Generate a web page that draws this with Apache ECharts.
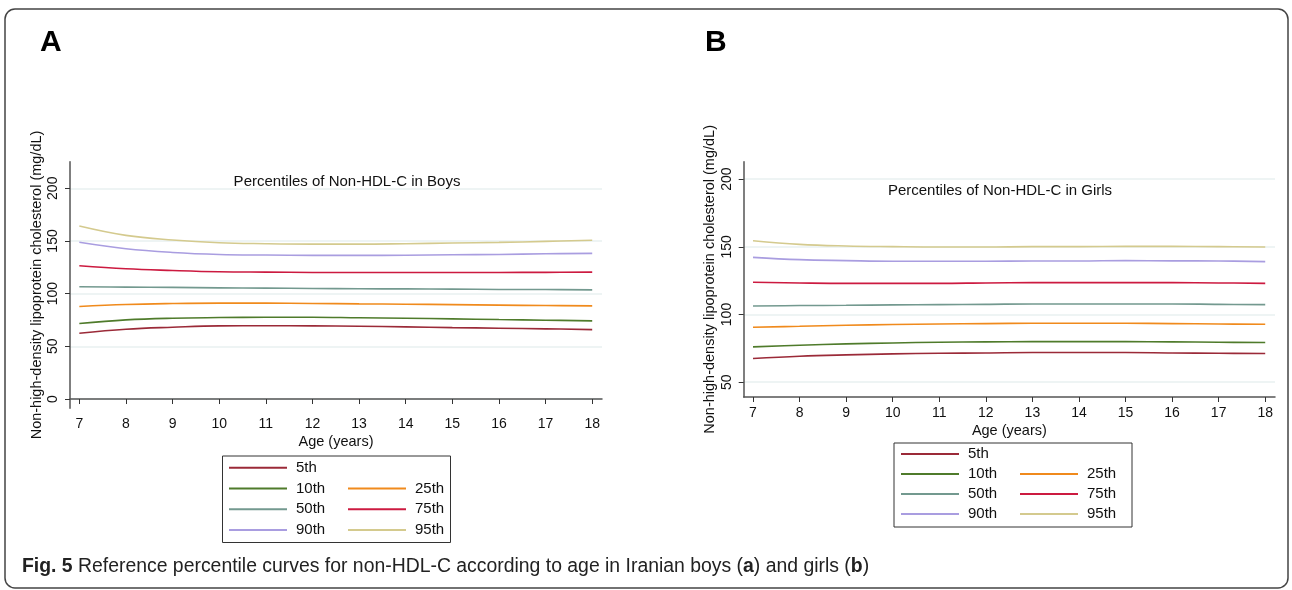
<!DOCTYPE html>
<html>
<head>
<meta charset="utf-8">
<script src="https://cdn.jsdelivr.net/npm/echarts@6/dist/echarts.min.js"></script>
<style>
  html, body { margin: 0; padding: 0; background: #fff; }
  #main { width: 1292px; height: 590px; }
</style>
</head>
<body>
<div id="main"></div>
<script>
// ages on the x axis
var ages = [7, 8, 9, 10, 11, 12, 13, 14, 15, 16, 17, 18];
var percentiles = ['5th', '10th', '25th', '50th', '75th', '90th', '95th'];
var boyTicks = [0, 50, 100, 150, 200];
var girlTicks = [50, 100, 150, 200];

// A - boys
var boys5 = [62.4, 66.2, 68.1, 69.4, 69.5, 69.4, 69.1, 68.5, 67.8, 67.2, 66.6, 65.9];
var boys10 = [71.6, 75.1, 76.7, 77.3, 77.6, 77.6, 77.1, 76.7, 76.1, 75.4, 74.8, 74.2];
var boys25 = [87.8, 89.7, 90.6, 91.0, 91.0, 90.7, 90.3, 90.0, 89.6, 89.1, 88.7, 88.4];
var boys50 = [106.5, 106.2, 105.9, 105.5, 105.2, 104.9, 104.6, 104.5, 104.3, 104.0, 103.9, 103.6];
var boys75 = [126.5, 123.6, 122.0, 120.8, 120.4, 120.1, 120.0, 120.0, 120.0, 120.1, 120.2, 120.4];
var boys90 = [148.7, 142.6, 139.1, 137.2, 136.6, 136.3, 136.3, 136.5, 136.9, 137.2, 137.8, 138.2];
var boys95 = [164.2, 155.3, 150.9, 148.3, 147.4, 147.0, 147.0, 147.4, 148.0, 148.6, 149.6, 150.6];

// B - girls
var girls5 = [67.5, 69.2, 70.2, 70.9, 71.4, 71.6, 71.9, 71.9, 71.9, 71.6, 71.4, 71.2];
var girls10 = [76.1, 77.3, 78.3, 79.0, 79.5, 79.8, 80.0, 80.0, 80.0, 79.8, 79.5, 79.3];
var girls25 = [90.6, 91.3, 92.1, 92.6, 93.0, 93.3, 93.5, 93.5, 93.5, 93.3, 93.0, 92.8];
var girls50 = [106.3, 106.6, 106.8, 107.1, 107.3, 107.5, 107.8, 107.8, 107.8, 107.8, 107.5, 107.3];
var girls75 = [123.8, 123.3, 123.0, 123.0, 123.0, 123.3, 123.5, 123.5, 123.5, 123.5, 123.3, 123.0];
var girls90 = [142.2, 140.5, 139.8, 139.3, 139.3, 139.3, 139.5, 139.5, 139.8, 139.6, 139.5, 139.0];
var girls95 = [154.5, 151.8, 150.6, 150.1, 149.8, 149.8, 150.1, 150.1, 150.3, 150.3, 150.1, 149.8];

var colors = ['#9b2a38', '#4f7b2b', '#f08a1c', '#73998f', '#cc1a40', '#a99de0', '#d4ca8e'];
var boys = [boys5, boys10, boys25, boys50, boys75, boys90, boys95];
var girls = [girls5, girls10, girls25, girls50, girls75, girls90, girls95];

var font = 'Liberation Sans, Arial, sans-serif';

function pairs(vals) {
  return ages.map(function (a, i) { return [a, vals[i]]; });
}

var series = [];
percentiles.forEach(function (p, i) {
  series.push({
    name: p, type: 'line', xAxisIndex: 0, yAxisIndex: 0,
    data: pairs(boys[i]), smooth: 0.4, symbol: 'none',
    color: colors[i], lineStyle: { width: 1.6, color: colors[i] }
  });
});
percentiles.forEach(function (p, i) {
  series.push({
    name: p, type: 'line', xAxisIndex: 1, yAxisIndex: 1,
    data: pairs(girls[i]), smooth: 0.4, symbol: 'none',
    color: colors[i], lineStyle: { width: 1.6, color: colors[i] }
  });
});

function xAx(grid) {
  return {
    gridIndex: grid, type: 'value', min: 6.8, max: 18.21,
    name: 'Age (years)', nameLocation: 'middle', nameGap: 26,
    nameTextStyle: { fontFamily: font, fontSize: 14.5, color: '#111' },
    axisLine: { lineStyle: { color: '#555', width: 1.5 } },
    axisTick: { customValues: ages, length: 5, lineStyle: { color: '#333' } },
    axisLabel: { customValues: ages, margin: 9, fontFamily: font, fontSize: 14, color: '#111' },
    splitLine: { show: false }
  };
}
function yAx(grid, min, max, ticks) {
  return {
    gridIndex: grid, type: 'value', min: min, max: max,
    name: 'Non-high-density lipoprotein cholesterol (mg/dL)',
    nameLocation: 'middle', nameGap: 26, nameRotate: 90,
    nameTextStyle: { fontFamily: font, fontSize: 14.5, color: '#111' },
    axisLine: { show: true, lineStyle: { color: '#555', width: 1.5 } },
    axisTick: { show: true, customValues: ticks, length: 5, lineStyle: { color: '#333' } },
    axisLabel: { customValues: ticks, rotate: 90, margin: 10, fontFamily: font, fontSize: 14, color: '#111' },
    splitLine: { show: true, lineStyle: { color: '#e8f0f1', width: 1.5 } }
  };
}

function legendOf(left, top, rowH) {
  return {
    data: ['5th', '', '10th', '25th', '', '50th', '75th', '', '90th', '95th'],
    left: left, top: top, orient: 'horizontal', width: 260, padding: 0,
    itemGap: 0, itemWidth: 58, itemHeight: 2, icon: 'rect', selectedMode: false,
    textStyle: { fontFamily: font, fontSize: 15, color: '#111', width: 52, lineHeight: rowH, padding: [0, 0, 0, 4] }
  };
}

var option = {
  backgroundColor: '#fff',
  animation: false,
  title: [
    { text: 'Percentiles of Non-HDL-C in Boys', left: 342, top: 169, textAlign: 'center',
      textStyle: { fontFamily: font, fontSize: 15, fontWeight: 'normal', color: '#111' } },
    { text: 'Percentiles of Non-HDL-C in Girls', left: 995, top: 178, textAlign: 'center',
      textStyle: { fontFamily: font, fontSize: 15, fontWeight: 'normal', color: '#111' } }
  ],
  grid: [
    { left: 70, top: 161.7, width: 532, height: 246.6 },
    { left: 743.7, top: 161.7, width: 531.3, height: 235.3 }
  ],
  xAxis: [xAx(0), xAx(1)],
  yAxis: [yAx(0, -8.8, 225.2, boyTicks), yAx(1, 39.1, 212.8, girlTicks)],
  legend: [legendOf(229, 457.5, 20.7), legendOf(901, 444, 20)],
  series: series,
  graphic: [
    { type: 'rect', shape: { x: 5, y: 9, width: 1283, height: 579, r: 10 },
      style: { fill: 'none', stroke: '#444', lineWidth: 1.5 }, silent: true },
    { type: 'text', left: 40, top: 28,
      style: { text: 'A', font: 'bold 30px ' + font, fill: '#000' } },
    { type: 'text', left: 705, top: 28,
      style: { text: 'B', font: 'bold 30px ' + font, fill: '#000' } },
    { type: 'rect', shape: { x: 222.5, y: 456, width: 228, height: 86.5 },
      style: { fill: 'none', stroke: '#333', lineWidth: 1 }, silent: true },
    { type: 'rect', shape: { x: 894, y: 443, width: 238, height: 84 },
      style: { fill: 'none', stroke: '#333', lineWidth: 1 }, silent: true },
    { type: 'text', left: 22, top: 557,
      style: {
        text: '{b|Fig. 5} Reference percentile curves for non-HDL-C according to age in Iranian boys ({b|a}) and girls ({b|b})',
        font: '19.4px ' + font, fill: '#222',
        rich: { b: { fontWeight: 'bold', fontSize: 19.4, fontFamily: font, fill: '#222' } }
      } }
  ]
};

var chart = echarts.init(document.getElementById('main'));
chart.setOption(option);
</script>
</body>
</html>
